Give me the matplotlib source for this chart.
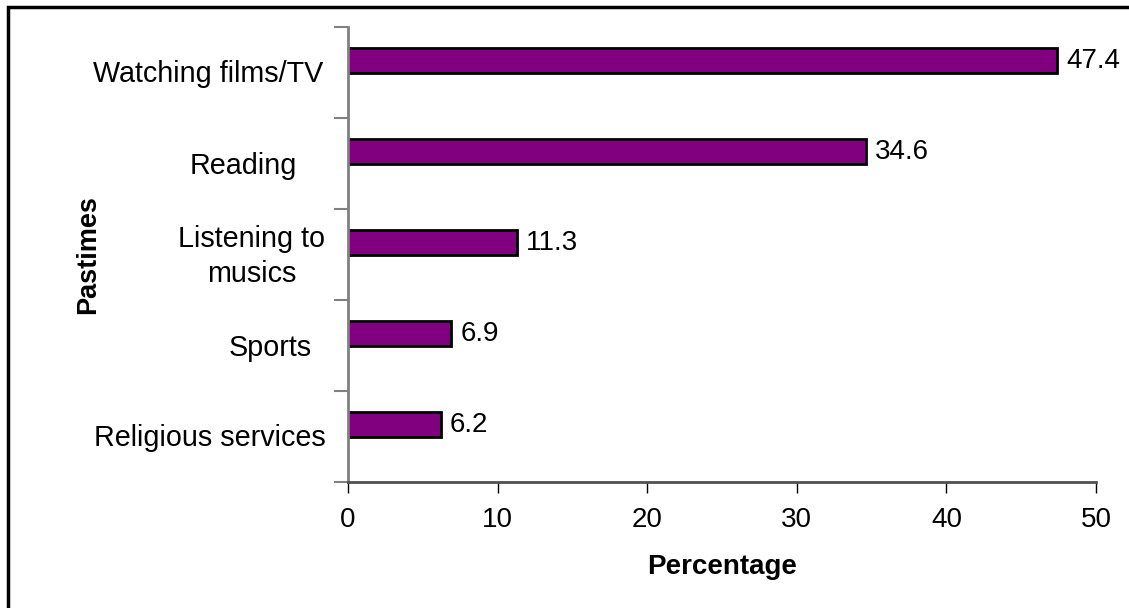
import matplotlib.pyplot as plt
from matplotlib.patches import Rectangle

plt.rcParams['font.family'] = ['Liberation Sans', 'DejaVu Sans']

categories = ['Watching films/TV', 'Reading', 'Listening to\nmusics', 'Sports', 'Religious services']
values = [47.4, 34.6, 11.3, 6.9, 6.2]
value_labels = ['47.4', '34.6', '11.3', '6.9', '6.2']
x_ticks = [0, 10, 20, 30, 40, 50]

# horizontal centres of the category labels, in pixels from the left of the figure
label_centres = [208, 243, 252, 270, 210]

W, H = 1129, 608
fig = plt.figure(figsize=(W / 100, H / 100), dpi=100)
ax = fig.add_axes([348 / W, 1 - 482 / H, (1096 - 348) / W, (482 - 27) / H])

pos = list(range(len(categories)))
ax.barh([p - 0.13 for p in pos], values, height=0.28, color='#800080',
        edgecolor='black', linewidth=2)

for p, v, lab in zip(pos, values, value_labels):
    ax.text(v + 0.6, p - 0.13, lab, va='center', ha='left', fontsize=20)

ax.set_xlim(0, 50)
ax.set_ylim(len(categories) - 0.5, -0.5)
ax.set_xticks(x_ticks)
ax.set_xticklabels([str(t) for t in x_ticks], fontsize=20)
ax.tick_params(axis='x', length=8, width=1, color='black', pad=10)

ax.set_yticks([p - 0.5 for p in range(len(categories) + 1)])
ax.set_yticklabels([])
ax.tick_params(axis='y', length=10, width=1.5, color='#808080')

for p, cat, cx in zip(pos, categories, label_centres):
    fig.text(cx / W, 1 - (29 + (p + 0.5) * 91) / H, cat, ha='center', va='center',
             fontsize=20.7, multialignment='center', linespacing=1.3)

for s in ['top', 'right']:
    ax.spines[s].set_visible(False)
ax.spines['left'].set_color('#808080')
ax.spines['left'].set_linewidth(2)
ax.spines['bottom'].set_color('#505050')
ax.spines['bottom'].set_linewidth(2)

ax.set_xlabel('Percentage', fontsize=20, fontweight='bold', labelpad=15)
fig.text(88 / W, 1 - 255 / H, 'Pastimes', rotation=90, ha='center', va='center',
         fontsize=19.5, fontweight='bold')

fig.patches.append(Rectangle((8 / W, -0.1), 1.2, 1 - 7 / H + 0.1, transform=fig.transFigure,
                             fill=False, edgecolor='black', linewidth=2.5))

fig.savefig('out.png', dpi=100)
